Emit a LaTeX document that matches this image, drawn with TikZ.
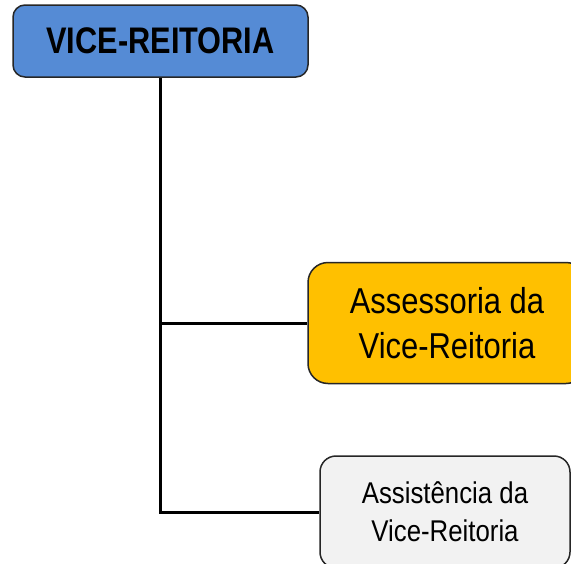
\documentclass[tikz,border=0pt]{standalone}
\usepackage{fontspec}
\setmainfont{Liberation Sans}
\newfontfamily\narrowfont[FakeStretch=0.83]{Liberation Sans}
\newfontfamily\narrowfontb[FakeStretch=0.86]{Liberation Sans}
\definecolor{vrblue}{RGB}{85,139,213}
\definecolor{assorange}{RGB}{255,192,0}
\definecolor{astgray}{RGB}{242,242,242}
\begin{document}
\begin{tikzpicture}[x=1pt,y=-1pt,
  box/.style={draw=black!85,line width=1.5pt,inner sep=0pt,align=center,text=black},
  link/.style={draw=black,line width=3pt}]
\clip (0,0) rectangle (571,563);
\fill[white] (0,0) rectangle (571,563);
\node[box,fill=vrblue,rounded corners=12pt,minimum width=295pt,minimum height=72pt,
  font={\narrowfont\bfseries\fontsize{37}{44}\selectfont}] (vr) at (160.5,41) {VICE-REITORIA};
\node[box,fill=assorange,rounded corners=20pt,minimum width=278pt,minimum height=121pt,
  font={\narrowfontb\fontsize{36}{45}\selectfont}] (ass) at (447,323) {Assessoria da\\Vice-Reitoria};
\node[box,fill=astgray,rounded corners=16pt,minimum width=250pt,minimum height=112pt,
  font={\narrowfontb\fontsize{30}{38}\selectfont}] (ast) at (445,512) {Assistência da\\Vice-Reitoria};
\draw[link] (vr.south) |- (ass.west);
\draw[link] (vr.south) |- (ast.west);
\end{tikzpicture}
\end{document}
